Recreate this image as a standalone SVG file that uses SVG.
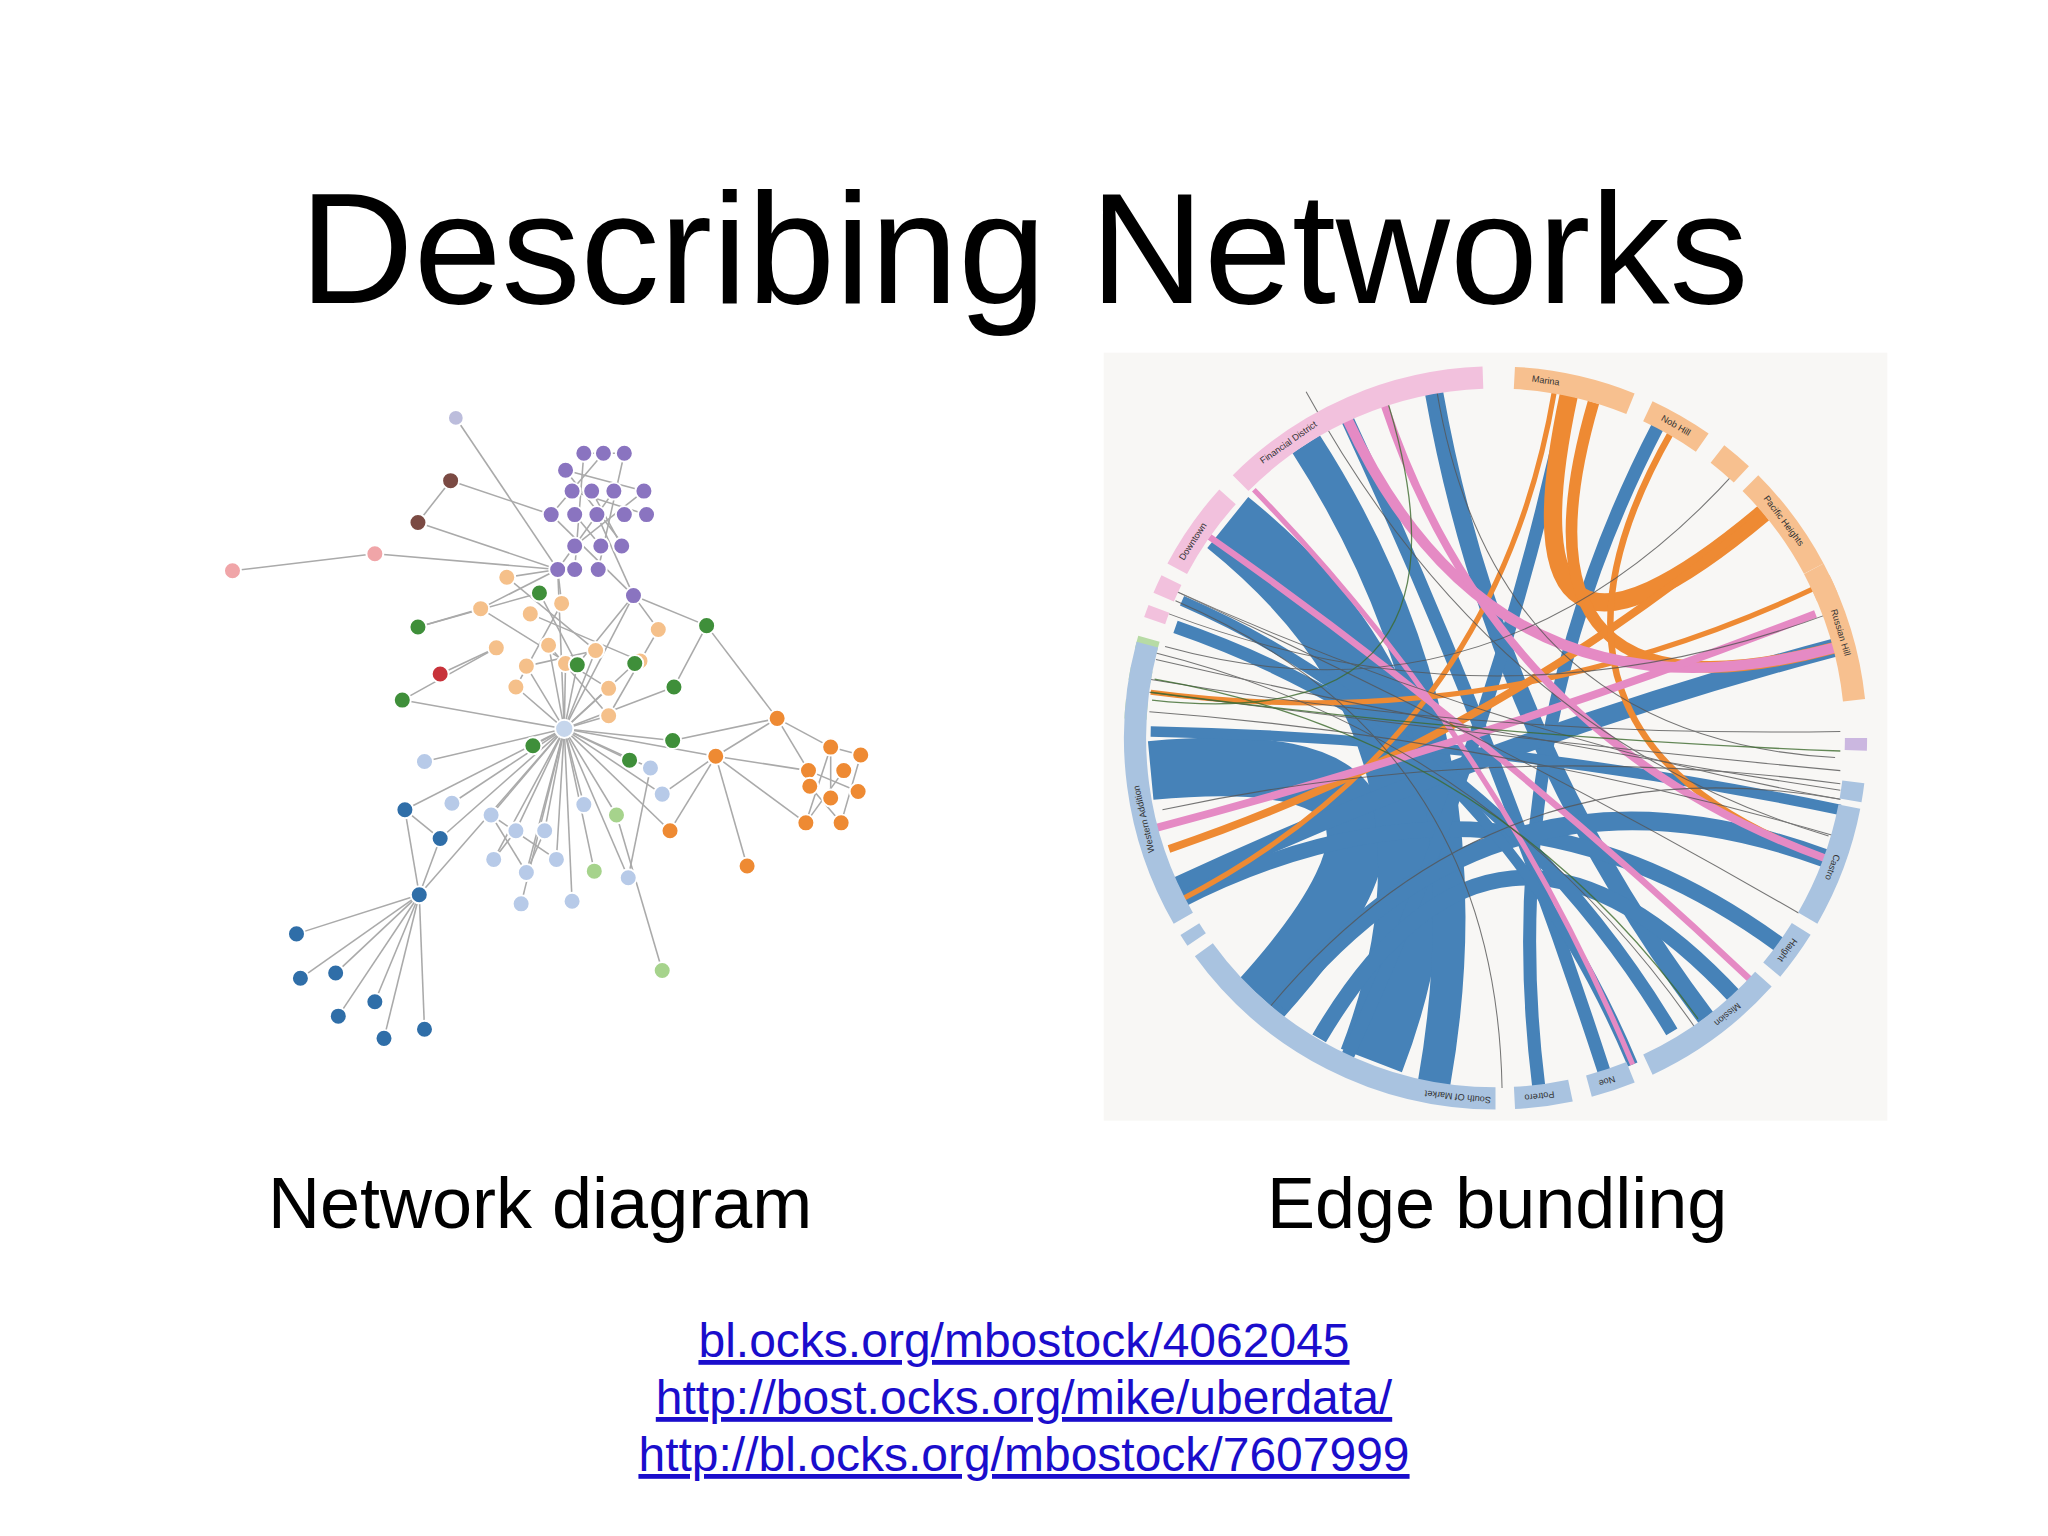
<svg xmlns="http://www.w3.org/2000/svg" width="2048" height="1536" viewBox="0 0 2048 1536">
<style>
.t{font-family:"Liberation Sans",Arial,sans-serif;fill:#000}
.lnk{font-family:"Liberation Sans",Arial,sans-serif;fill:#1a0dcc;text-decoration:underline;font-size:48px}
.e line{stroke:#aaa;stroke-width:1.2}
.seg{fill:none;stroke-width:17}
.ch path{fill:none}
.lb{font-family:"Liberation Sans",Arial,sans-serif;font-size:7px;fill:#333;text-anchor:middle}
</style>
<rect width="2048" height="1536" fill="#fff"/>
<text class="t" x="1024" y="303" font-size="158" text-anchor="middle">Describing Networks</text>
<g transform="scale(1.30612)">
<g id="network">
<g class="e">
<line x1="432" y1="558" x2="321" y2="685"/><line x1="432" y1="558" x2="310" y2="620"/><line x1="432" y1="558" x2="337" y2="642"/><line x1="432" y1="558" x2="325" y2="583"/><line x1="432" y1="558" x2="346" y2="615"/><line x1="432" y1="558" x2="376" y2="624"/><line x1="432" y1="558" x2="395" y2="636"/><line x1="432" y1="558" x2="417" y2="636"/><line x1="432" y1="558" x2="378" y2="658"/><line x1="432" y1="558" x2="403" y2="668"/><line x1="432" y1="558" x2="426" y2="658"/><line x1="432" y1="558" x2="399" y2="692"/><line x1="432" y1="558" x2="438" y2="690"/><line x1="432" y1="558" x2="447" y2="616"/><line x1="432" y1="558" x2="472" y2="624"/><line x1="432" y1="558" x2="455" y2="667"/><line x1="432" y1="558" x2="481" y2="672"/><line x1="432" y1="558" x2="498" y2="588"/><line x1="432" y1="558" x2="507" y2="608"/><line x1="432" y1="558" x2="482" y2="582"/><line x1="432" y1="558" x2="515" y2="567"/><line x1="432" y1="558" x2="548" y2="579"/><line x1="432" y1="558" x2="408" y2="571"/><line x1="432" y1="558" x2="308" y2="536"/><line x1="432" y1="558" x2="466" y2="548"/><line x1="432" y1="558" x2="466" y2="527"/><line x1="432" y1="558" x2="433" y2="508"/><line x1="432" y1="558" x2="403" y2="510"/><line x1="432" y1="558" x2="395" y2="526"/><line x1="432" y1="558" x2="442" y2="509"/><line x1="432" y1="558" x2="486" y2="508"/><line x1="432" y1="558" x2="456" y2="498"/><line x1="432" y1="558" x2="420" y2="494"/><line x1="432" y1="558" x2="485" y2="456"/><line x1="432" y1="558" x2="427" y2="436"/><line x1="432" y1="558" x2="516" y2="526"/><line x1="432" y1="558" x2="513" y2="636"/>
<line x1="321" y1="685" x2="227" y2="715"/><line x1="321" y1="685" x2="230" y2="749"/><line x1="321" y1="685" x2="257" y2="745"/><line x1="321" y1="685" x2="287" y2="767"/><line x1="321" y1="685" x2="259" y2="778"/><line x1="321" y1="685" x2="294" y2="795"/><line x1="321" y1="685" x2="325" y2="788"/><line x1="321" y1="685" x2="310" y2="620"/><line x1="321" y1="685" x2="337" y2="642"/><line x1="310" y1="620" x2="337" y2="642"/>
<line x1="178" y1="437" x2="287" y2="424"/><line x1="287" y1="424" x2="427" y2="436"/><line x1="320" y1="400" x2="345" y2="368"/><line x1="320" y1="400" x2="427" y2="436"/><line x1="349" y1="320" x2="427" y2="436"/><line x1="345" y1="368" x2="422" y2="394"/>
<line x1="433" y1="360" x2="478" y2="418"/><line x1="447" y1="347" x2="440" y2="436"/><line x1="462" y1="347" x2="422" y2="394"/><line x1="478" y1="347" x2="458" y2="436"/><line x1="438" y1="376" x2="495" y2="394"/><line x1="453" y1="376" x2="476" y2="418"/><line x1="470" y1="376" x2="427" y2="436"/><line x1="493" y1="376" x2="440" y2="418"/><line x1="422" y1="394" x2="485" y2="456"/><line x1="457" y1="394" x2="485" y2="456"/><line x1="440" y1="394" x2="460" y2="418"/><line x1="433" y1="360" x2="493" y2="376"/><line x1="447" y1="347" x2="478" y2="347"/>
<line x1="427" y1="436" x2="388" y2="442"/><line x1="427" y1="436" x2="430" y2="462"/><line x1="427" y1="436" x2="368" y2="466"/><line x1="485" y1="456" x2="504" y2="482"/><line x1="485" y1="456" x2="541" y2="479"/><line x1="413" y1="454" x2="320" y2="480"/><line x1="368" y1="466" x2="320" y2="480"/><line x1="380" y1="496" x2="337" y2="516"/><line x1="380" y1="496" x2="308" y2="536"/><line x1="388" y1="442" x2="456" y2="498"/><line x1="368" y1="466" x2="466" y2="527"/><line x1="406" y1="470" x2="490" y2="506"/><line x1="430" y1="462" x2="395" y2="526"/><line x1="420" y1="494" x2="466" y2="548"/><line x1="456" y1="498" x2="403" y2="510"/><line x1="504" y1="482" x2="466" y2="548"/><line x1="541" y1="479" x2="516" y2="526"/><line x1="541" y1="479" x2="595" y2="550"/><line x1="413" y1="454" x2="442" y2="509"/><line x1="485" y1="456" x2="442" y2="509"/>
<line x1="548" y1="579" x2="595" y2="550"/><line x1="548" y1="579" x2="619" y2="590"/><line x1="548" y1="579" x2="617" y2="630"/><line x1="548" y1="579" x2="513" y2="636"/><line x1="548" y1="579" x2="572" y2="663"/><line x1="548" y1="579" x2="507" y2="608"/><line x1="595" y1="550" x2="636" y2="572"/><line x1="595" y1="550" x2="619" y2="590"/><line x1="636" y1="572" x2="659" y2="578"/><line x1="636" y1="572" x2="636" y2="611"/><line x1="619" y1="590" x2="657" y2="606"/><line x1="646" y1="590" x2="617" y2="630"/><line x1="620" y1="602" x2="644" y2="630"/><line x1="659" y1="578" x2="644" y2="630"/><line x1="636" y1="572" x2="617" y2="630"/><line x1="515" y1="567" x2="595" y2="550"/>
<line x1="376" y1="624" x2="426" y2="658"/><line x1="395" y1="636" x2="378" y2="658"/><line x1="417" y1="636" x2="403" y2="668"/><line x1="376" y1="624" x2="403" y2="668"/><line x1="472" y1="624" x2="507" y2="743"/><line x1="481" y1="672" x2="498" y2="588"/>
</g>
<g stroke="#fff" stroke-width="1.5">
<circle cx="349" cy="320" r="6" fill="#bcbddc"/>
<g fill="#8a74c0"><circle cx="433" cy="360" r="6.5"/><circle cx="447" cy="347" r="6.5"/><circle cx="462" cy="347" r="6.5"/><circle cx="478" cy="347" r="6.5"/><circle cx="438" cy="376" r="6.5"/><circle cx="453" cy="376" r="6.5"/><circle cx="470" cy="376" r="6.5"/><circle cx="493" cy="376" r="6.5"/><circle cx="422" cy="394" r="6.5"/><circle cx="440" cy="394" r="6.5"/><circle cx="457" cy="394" r="6.5"/><circle cx="478" cy="394" r="6.5"/><circle cx="495" cy="394" r="6.5"/><circle cx="440" cy="418" r="6.5"/><circle cx="460" cy="418" r="6.5"/><circle cx="476" cy="418" r="6.5"/><circle cx="427" cy="436" r="6.5"/><circle cx="440" cy="436" r="6.5"/><circle cx="458" cy="436" r="6.5"/><circle cx="485" cy="456" r="6.5"/></g>
<g fill="#7b4a43"><circle cx="345" cy="368" r="6.5"/><circle cx="320" cy="400" r="6.5"/></g>
<g fill="#f0a5a8"><circle cx="178" cy="437" r="6.5"/><circle cx="287" cy="424" r="6.5"/></g>
<g fill="#f5c08a"><circle cx="388" cy="442" r="6.5"/><circle cx="430" cy="462" r="6.5"/><circle cx="368" cy="466" r="6.5"/><circle cx="406" cy="470" r="6.5"/><circle cx="380" cy="496" r="6.5"/><circle cx="420" cy="494" r="6.5"/><circle cx="456" cy="498" r="6.5"/><circle cx="433" cy="508" r="6.5"/><circle cx="403" cy="510" r="6.5"/><circle cx="395" cy="526" r="6.5"/><circle cx="466" cy="527" r="6.5"/><circle cx="490" cy="506" r="6.5"/><circle cx="466" cy="548" r="6.5"/><circle cx="504" cy="482" r="6.5"/></g>
<g fill="#3f8f3a"><circle cx="413" cy="454" r="6.5"/><circle cx="320" cy="480" r="6.5"/><circle cx="541" cy="479" r="6.5"/><circle cx="442" cy="509" r="6.5"/><circle cx="486" cy="508" r="6.5"/><circle cx="516" cy="526" r="6.5"/><circle cx="308" cy="536" r="6.5"/><circle cx="408" cy="571" r="6.5"/><circle cx="515" cy="567" r="6.5"/><circle cx="482" cy="582" r="6.5"/></g>
<circle cx="337" cy="516" r="6.5" fill="#c8323a"/>
<circle cx="432" cy="558" r="7" fill="#c6d6ec"/>
<g fill="#ee8a33"><circle cx="595" cy="550" r="6.5"/><circle cx="548" cy="579" r="6.5"/><circle cx="636" cy="572" r="6.5"/><circle cx="659" cy="578" r="6.5"/><circle cx="619" cy="590" r="6.5"/><circle cx="646" cy="590" r="6.5"/><circle cx="620" cy="602" r="6.5"/><circle cx="657" cy="606" r="6.5"/><circle cx="636" cy="611" r="6.5"/><circle cx="617" cy="630" r="6.5"/><circle cx="644" cy="630" r="6.5"/><circle cx="513" cy="636" r="6.5"/><circle cx="572" cy="663" r="6.5"/></g>
<g fill="#b7cae8"><circle cx="325" cy="583" r="6.5"/><circle cx="498" cy="588" r="6.5"/><circle cx="346" cy="615" r="6.5"/><circle cx="507" cy="608" r="6.5"/><circle cx="376" cy="624" r="6.5"/><circle cx="447" cy="616" r="6.5"/><circle cx="395" cy="636" r="6.5"/><circle cx="417" cy="636" r="6.5"/><circle cx="378" cy="658" r="6.5"/><circle cx="403" cy="668" r="6.5"/><circle cx="426" cy="658" r="6.5"/><circle cx="481" cy="672" r="6.5"/><circle cx="399" cy="692" r="6.5"/><circle cx="438" cy="690" r="6.5"/></g>
<g fill="#a6d38c"><circle cx="472" cy="624" r="6.5"/><circle cx="455" cy="667" r="6.5"/><circle cx="507" cy="743" r="6.5"/></g>
<g fill="#2f6ea8"><circle cx="310" cy="620" r="6.5"/><circle cx="337" cy="642" r="6.5"/><circle cx="321" cy="685" r="6.5"/><circle cx="227" cy="715" r="6.5"/><circle cx="230" cy="749" r="6.5"/><circle cx="257" cy="745" r="6.5"/><circle cx="287" cy="767" r="6.5"/><circle cx="259" cy="778" r="6.5"/><circle cx="294" cy="795" r="6.5"/><circle cx="325" cy="788" r="6.5"/></g>
</g>
</g>
<g id="chord">
<rect x="845" y="270" width="600" height="588" fill="#f8f7f5"/>
<g class="ch">
<path d="M881 590 Q1145 565 966 764" stroke="#4682b8" stroke-width="45"/>
<path d="M940 400 Q1145 565 1050 812" stroke="#4682b8" stroke-width="50"/>
<path d="M1000 340 Q1145 565 1098 829" stroke="#4682b8" stroke-width="25"/>
<path d="M1098 301 Q1145 565 1306 779" stroke="#4682b8" stroke-width="14"/>
<path d="M902 678 Q1145 565 1404 496" stroke="#4682b8" stroke-width="14"/>
<path d="M1178 831 Q1145 565 1270 325" stroke="#4682b8" stroke-width="10"/>
<path d="M902 690 Q1145 565 1362 723" stroke="#4682b8" stroke-width="12"/>
<path d="M1032 322 Q1145 565 1228 820" stroke="#4682b8" stroke-width="10"/>
<path d="M1201 303 Q1145 565 1032 808" stroke="#4682b8" stroke-width="10"/>
<path d="M1397 657 Q1145 565 980 770" stroke="#4682b8" stroke-width="14"/>
<path d="M1330 765 Q1145 565 1010 795" stroke="#4682b8" stroke-width="12"/>
<path d="M900 480 Q1145 565 1280 790" stroke="#4682b8" stroke-width="10"/>
<path d="M1409 620 Q1145 565 881 560" stroke="#4682b8" stroke-width="8"/>
<path d="M1250 815 Q1145 565 905 460" stroke="#4682b8" stroke-width="8"/>
<path d="M1201 303 Q1145 565 1350 393" stroke="#ee8a33" stroke-width="14"/>
<path d="M1220 308 Q1145 565 1404 496" stroke="#ee8a33" stroke-width="9"/>
<path d="M1350 393 Q1145 565 895 650" stroke="#ee8a33" stroke-width="6"/>
<path d="M1280 330 Q1145 565 1397 657" stroke="#ee8a33" stroke-width="5"/>
<path d="M1190 300 Q1145 565 902 690" stroke="#ee8a33" stroke-width="4"/>
<path d="M1390 450 Q1145 565 881 530" stroke="#ee8a33" stroke-width="4"/>
<path d="M1032 322 Q1145 565 1404 496" stroke="#e58ac4" stroke-width="8"/>
<path d="M1060 310 Q1145 565 1397 657" stroke="#e58ac4" stroke-width="6"/>
<path d="M926 411 Q1145 565 1340 750" stroke="#e58ac4" stroke-width="5"/>
<path d="M960 375 Q1145 565 1250 815" stroke="#e58ac4" stroke-width="4"/>
<path d="M881 635 Q1145 565 1390 470" stroke="#e58ac4" stroke-width="6"/>
<g stroke="#555" stroke-width="0.8" opacity="0.8">
<path d="M890 448 Q1145 565 1409 612"/><path d="M880 520 Q1145 565 1409 560"/><path d="M890 448 Q1145 565 1377 699"/><path d="M895 470 Q1145 565 1400 470"/><path d="M885 500 Q1145 565 1300 790"/><path d="M880 530 Q1145 565 1409 590"/><path d="M900 460 Q1145 565 1150 833"/><path d="M1409 612 Q1145 565 973 770"/><path d="M1400 640 Q1145 565 1000 300"/><path d="M1405 580 Q1145 565 1100 299"/><path d="M1409 600 Q1145 565 890 620"/><path d="M885 505 Q1145 565 1409 605"/><path d="M892 495 Q1145 565 1330 360"/><path d="M880 545 Q1145 565 1405 640"/>
</g>
<g stroke="#3d6b2e" stroke-width="1" opacity="0.8">
<path d="M881 530 Q1145 565 1409 575"/><path d="M884 520 Q1145 565 1300 780"/><path d="M882 536 Q1145 565 1060 300"/>
</g>
</g>
<g class="seg">
<circle cx="1145" cy="565" r="276" pathLength="360" stroke="#f2c1dd" stroke-dasharray="43 317" transform="rotate(-135 1145 565)"/>
<circle cx="1145" cy="565" r="276" pathLength="360" stroke="#f2c1dd" stroke-dasharray="14 346" transform="rotate(-152 1145 565)"/>
<circle cx="1145" cy="565" r="276" pathLength="360" stroke="#f2c1dd" stroke-dasharray="3 357" transform="rotate(-157 1145 565)"/>
<circle cx="1145" cy="565" r="276" pathLength="360" stroke="#f2c1dd" stroke-dasharray="2 358" transform="rotate(-161 1145 565)"/>
<circle cx="1145" cy="565" r="276" pathLength="360" stroke="#b7dba5" stroke-dasharray="2 358" transform="rotate(-166 1145 565)"/>
<circle cx="1145" cy="565" r="276" pathLength="360" stroke="#b7dba5" stroke-dasharray="2 358" transform="rotate(-171 1145 565)"/>
<circle cx="1145" cy="565" r="276" pathLength="360" stroke="#b7dba5" stroke-dasharray="3 357" transform="rotate(-177 1145 565)"/>
<circle cx="1145" cy="565" r="276" pathLength="360" stroke="#f7c08f" stroke-dasharray="19 341" transform="rotate(-87 1145 565)"/>
<circle cx="1145" cy="565" r="276" pathLength="360" stroke="#f7c08f" stroke-dasharray="10 350" transform="rotate(-65 1145 565)"/>
<circle cx="1145" cy="565" r="276" pathLength="360" stroke="#f7c08f" stroke-dasharray="5 355" transform="rotate(-52 1145 565)"/>
<circle cx="1145" cy="565" r="276" pathLength="360" stroke="#f7c08f" stroke-dasharray="17 343" transform="rotate(-45 1145 565)"/>
<circle cx="1145" cy="565" r="276" pathLength="360" stroke="#f7c08f" stroke-dasharray="3 357" transform="rotate(-26 1145 565)"/>
<circle cx="1145" cy="565" r="276" pathLength="360" stroke="#f7c08f" stroke-dasharray="22 338" transform="rotate(-28 1145 565)"/>
<circle cx="1145" cy="565" r="276" pathLength="360" stroke="#cbb7e0" stroke-dasharray="2 358" transform="rotate(0 1145 565)"/>
<circle cx="1145" cy="565" r="276" pathLength="360" stroke="#a9c3e0" stroke-dasharray="3 357" transform="rotate(7 1145 565)"/>
<circle cx="1145" cy="565" r="276" pathLength="360" stroke="#a9c3e0" stroke-dasharray="19 341" transform="rotate(11 1145 565)"/>
<circle cx="1145" cy="565" r="276" pathLength="360" stroke="#a9c3e0" stroke-dasharray="8 352" transform="rotate(32 1145 565)"/>
<circle cx="1145" cy="565" r="276" pathLength="360" stroke="#a9c3e0" stroke-dasharray="23 337" transform="rotate(42 1145 565)"/>
<circle cx="1145" cy="565" r="276" pathLength="360" stroke="#a9c3e0" stroke-dasharray="7 353" transform="rotate(68 1145 565)"/>
<circle cx="1145" cy="565" r="276" pathLength="360" stroke="#a9c3e0" stroke-dasharray="9 351" transform="rotate(78 1145 565)"/>
<circle cx="1145" cy="565" r="276" pathLength="360" stroke="#a9c3e0" stroke-dasharray="54 306" transform="rotate(90 1145 565)"/>
<circle cx="1145" cy="565" r="276" pathLength="360" stroke="#a9c3e0" stroke-dasharray="2 358" transform="rotate(146 1145 565)"/>
<circle cx="1145" cy="565" r="276" pathLength="360" stroke="#a9c3e0" stroke-dasharray="45 315" transform="rotate(150 1145 565)"/>
</g>
<g class="lb">
<text x="1145" y="291" transform="rotate(8 1145 565)">Marina</text>
<text x="1145" y="291" transform="rotate(30 1145 565)">Nob Hill</text>
<text x="1145" y="291" transform="rotate(53 1145 565)">Pacific Heights</text>
<text x="1145" y="291" transform="rotate(73 1145 565)">Russian Hill</text>
<text x="1145" y="291" transform="rotate(111 1145 565)">Castro</text>
<text x="1145" y="291" transform="rotate(126 1145 565)">Haight</text>
<text x="1145" y="291" transform="rotate(140 1145 565)">Mission</text>
<text x="1145" y="291" transform="rotate(162 1145 565)">Noe</text>
<text x="1145" y="291" transform="rotate(173 1145 565)">Potrero</text>
<text x="1145" y="291" transform="rotate(186 1145 565)">South Of Market</text>
<text x="1145" y="291" transform="rotate(257 1145 565)">Western Addition</text>
<text x="1145" y="291" transform="rotate(-57 1145 565)">Downtown</text>
<text x="1145" y="291" transform="rotate(-35 1145 565)">Financial District</text>
</g>
</g>
</g>
<text class="t" x="268" y="1228" font-size="72">Network diagram</text>
<text class="t" x="1267" y="1228" font-size="72">Edge bundling</text>
<text class="lnk" x="1024" y="1357" text-anchor="middle">bl.ocks.org/mbostock/4062045</text>
<text class="lnk" x="1024" y="1414" text-anchor="middle">http://bost.ocks.org/mike/uberdata/</text>
<text class="lnk" x="1024" y="1471" text-anchor="middle">http://bl.ocks.org/mbostock/7607999</text>
</svg>
